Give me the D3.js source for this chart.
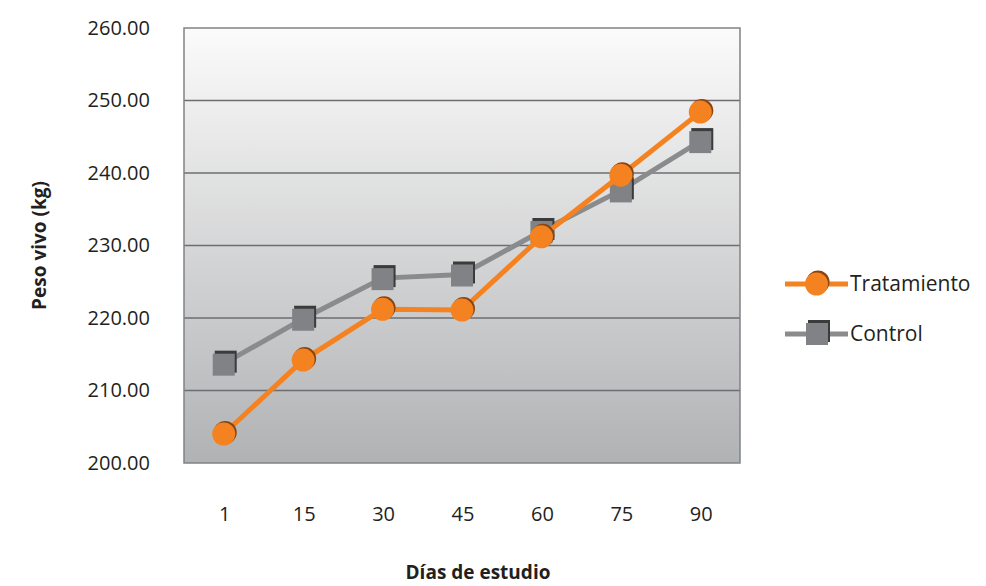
<!DOCTYPE html>
<html>
<head>
<meta charset="utf-8">
<script src="https://cdn.jsdelivr.net/npm/d3@7"></script>
<style>
body { margin: 0; background: #fff; }
text { font-family: "Open Sans", "Noto Sans", sans-serif; fill: #231f20; }
</style>
</head>
<body>
<script>
var svgWidth = 986;
var svgHeight = 586;

var dias = ['1', '15', '30', '45', '60', '75', '90'];
var tratamiento = [204.0, 214.2, 221.2, 221.1, 231.2, 239.7, 248.4];
var control = [213.7, 219.9, 225.5, 226.0, 232.0, 237.6, 244.4];
var yTicks = [200, 210, 220, 230, 240, 250, 260];

var plotLeft = 184, plotRight = 740, plotTop = 28, plotBottom = 463;

var x = d3.scaleBand().domain(dias).range([plotLeft, plotRight]);
var y = d3.scaleLinear().domain([200, 260]).range([plotBottom, plotTop]);

var svg = d3.select('body').append('svg')
    .attr('width', svgWidth)
    .attr('height', svgHeight);

var grad = svg.append('defs').append('linearGradient')
    .attr('id', 'bg').attr('x1', 0).attr('y1', 0).attr('x2', 0).attr('y2', 1);
grad.append('stop').attr('offset', '0%').attr('stop-color', '#fbfbfb');
grad.append('stop').attr('offset', '100%').attr('stop-color', '#b1b2b4');

svg.append('rect')
    .attr('x', plotLeft).attr('y', plotTop)
    .attr('width', plotRight - plotLeft).attr('height', plotBottom - plotTop)
    .attr('fill', 'url(#bg)');

// grid lines
svg.selectAll('line.grid').data(yTicks.slice(1, 6))
  .enter().append('line')
    .attr('class', 'grid')
    .attr('x1', plotLeft).attr('x2', plotRight)
    .attr('y1', function(d){ return y(d) })
    .attr('y2', function(d){ return y(d) })
    .attr('stroke', '#6d6e71').attr('stroke-width', 1.5);

svg.append('rect')
    .attr('x', plotLeft).attr('y', plotTop)
    .attr('width', plotRight - plotLeft).attr('height', plotBottom - plotTop)
    .attr('fill', 'none').attr('stroke', '#808285').attr('stroke-width', 1.5);

// y axis labels
var yAxis = d3.axisLeft(y).tickValues(yTicks).tickFormat(d3.format('.2f')).tickSize(0).tickPadding(34);
var gy = svg.append('g').attr('transform', 'translate(' + plotLeft + ',0)').call(yAxis);
gy.select('.domain').remove();
gy.selectAll('text').style('font-size', '20px').attr('fill', '#231f20');

// x axis labels
var xAxis = d3.axisBottom(x).tickSize(0).tickPadding(44);
var gx = svg.append('g').attr('transform', 'translate(1,' + plotBottom + ')').call(xAxis);
gx.select('.domain').remove();
gx.selectAll('text').style('font-size', '20px').attr('fill', '#231f20');

var orange = '#f58220', orangeDark = '#8a4410';
var grey = '#8a8b8d', greyBox = '#808285', greyDark = '#3b3b3c';

function cx(d, i){ return x(dias[i]) + x.bandwidth()/2 }

var line = d3.line().x(cx).y(function(d){ return y(d) });

svg.append('path').datum(control)
    .attr('d', line).attr('fill', 'none')
    .attr('stroke', grey).attr('stroke-width', 5);

function squares(g, data){
  var s = g.selectAll('g.sq').data(data).enter().append('g').attr('class', 'sq');
  s.append('rect')
    .attr('x', function(d, i){ return cx(d, i) - 9 })
    .attr('y', function(d){ return y(d) - 13 })
    .attr('width', 22).attr('height', 22).attr('fill', greyDark);
  s.append('rect')
    .attr('x', function(d, i){ return cx(d, i) - 11 })
    .attr('y', function(d){ return y(d) - 10 })
    .attr('width', 22).attr('height', 22).attr('fill', greyBox);
}
squares(svg, control);

svg.append('path').datum(tratamiento)
    .attr('d', line).attr('fill', 'none')
    .attr('stroke', orange).attr('stroke-width', 5);

function circles(g, data){
  var c = g.selectAll('g.ci').data(data).enter().append('g').attr('class', 'ci');
  c.append('circle')
    .attr('cx', function(d, i){ return cx(d, i) + 1.5 })
    .attr('cy', function(d){ return y(d) - 1.5 })
    .attr('r', 11.5).attr('fill', orangeDark);
  c.append('circle')
    .attr('cx', function(d, i){ return cx(d, i) })
    .attr('cy', function(d){ return y(d) })
    .attr('r', 11.5).attr('fill', orange);
}
circles(svg, tratamiento);

// legend
var leg = svg.append('g');
leg.append('line').attr('x1', 785).attr('x2', 848).attr('y1', 284).attr('y2', 284)
    .attr('stroke', orange).attr('stroke-width', 5);
leg.append('circle').attr('cx', 818).attr('cy', 282).attr('r', 11.5).attr('fill', orangeDark);
leg.append('circle').attr('cx', 816.5).attr('cy', 284).attr('r', 11.5).attr('fill', orange);
leg.append('text').attr('x', 850).attr('y', 284).attr('dy', '0.35em')
    .style('font-size', '21px').text('Tratamiento');

leg.append('line').attr('x1', 785).attr('x2', 848).attr('y1', 334).attr('y2', 334)
    .attr('stroke', grey).attr('stroke-width', 5);
leg.append('rect').attr('x', 808).attr('y', 320).attr('width', 22).attr('height', 22).attr('fill', greyDark);
leg.append('rect').attr('x', 806).attr('y', 323).attr('width', 22).attr('height', 22).attr('fill', greyBox);
leg.append('text').attr('x', 850).attr('y', 334).attr('dy', '0.35em')
    .style('font-size', '21px').text('Control');

// axis titles
svg.append('text')
    .attr('transform', 'translate(46,' + ((plotTop + plotBottom)/2) + ') rotate(-90)')
    .attr('text-anchor', 'middle')
    .style('font-size', '19px').style('font-weight', 'bold')
    .text('Peso vivo (kg)');

svg.append('text')
    .attr('x', 478).attr('y', 572).attr('dy', '0.35em')
    .attr('text-anchor', 'middle')
    .style('font-size', '19px').style('font-weight', 'bold')
    .text('Días de estudio');
</script>
</body>
</html>
